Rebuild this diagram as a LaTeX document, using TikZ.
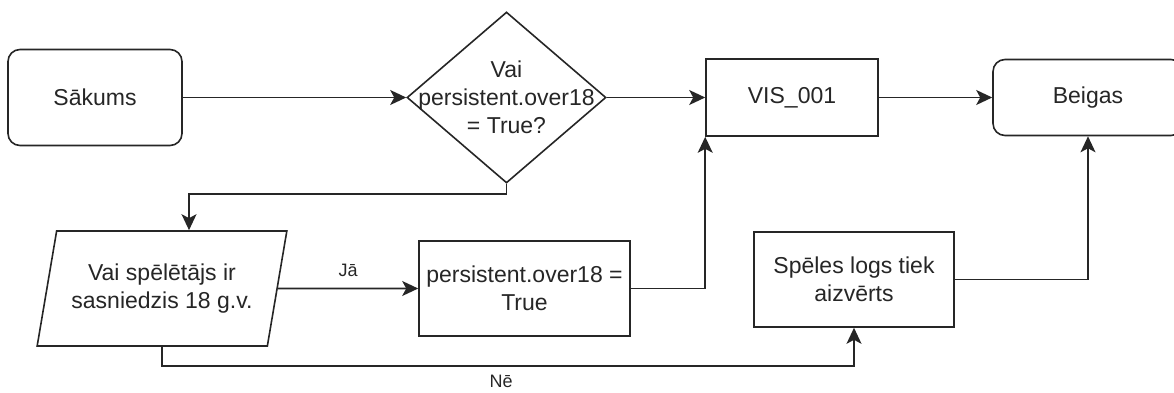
\documentclass[tikz,border=0pt]{standalone}
\usepackage{fontspec}
\setmainfont{Liberation Sans}
\usetikzlibrary{shapes.geometric,arrows.meta}
\begin{document}
\begin{tikzpicture}[x=1pt,y=-1pt,
  every node/.style={font=\fontsize{23}{28}\selectfont, text=black!85},
  base/.style={draw=black!85, line width=1.6pt, inner sep=0pt, fill=white},
  rbox/.style={base, rectangle, rounded corners=12pt},
  sbox/.style={base, rectangle},
  dbox/.style={base, diamond},
  iobox/.style={base, align=center, trapezium, trapezium left angle=71.3, trapezium right angle=108.7, trapezium stretches=true},
  txt/.style={align=center, inner sep=0pt},
  arr/.style={draw=black!85, line width=1.6pt, -{Stealth[length=16pt,width=15pt,inset=4pt]}},
  lbl/.style={font=\fontsize{18}{22}\selectfont, inner sep=0pt}
]
\useasboundingbox (0,0) rectangle (1174,393);
\clip (0,0) rectangle (1174,393);

% nodes
\node[rbox, minimum width=174pt, minimum height=96pt] (start) at (95,97.5) {Sākums};
\node[dbox, minimum width=199pt, minimum height=171pt] (dec) at (506.5,97.5) {};
\node[txt] at (dec) {Vai\\persistent.over18\\= True?};
\node[sbox, minimum width=172pt, minimum height=77pt] (vis) at (792,97.5) {VIS\_001};
\node[rbox, minimum width=190pt, minimum height=76pt] (end) at (1088,97.5) {Beigas};
\node[iobox, minimum width=250pt, minimum height=115pt] (ask) at (162,288.5) {Vai spēlētājs ir\\sasniedzis 18 g.v.};
\node[sbox, minimum width=211pt, minimum height=95pt] (set) at (524.5,288.5) {};
\node[txt] at (set) {persistent.over18 =\\True};
\node[sbox, minimum width=200pt, minimum height=95pt] (close) at (854,279.5) {};
\node[txt] at (close) {Spēles logs tiek\\aizvērts};

% connectors
\draw[arr] (start.east) -- (dec.west);
\draw[arr] (dec.east) -- (vis.west);
\draw[arr] (vis.east) -- (end.west);
\draw[arr] (dec.south) -- ++(0,10) -| ([xshift=27pt]ask.north);
\draw[arr] (ask.east) -- node[lbl, above=11pt] {Jā} (set.west);
\draw[arr] (set.east) -| (vis.south west);
\draw[arr] (ask.south) -- ++(0,19) -| node[lbl, pos=0.245, below=9pt] {Nē} (close.south);
\draw[arr] (close.east) -| (end.south);
\end{tikzpicture}
\end{document}
